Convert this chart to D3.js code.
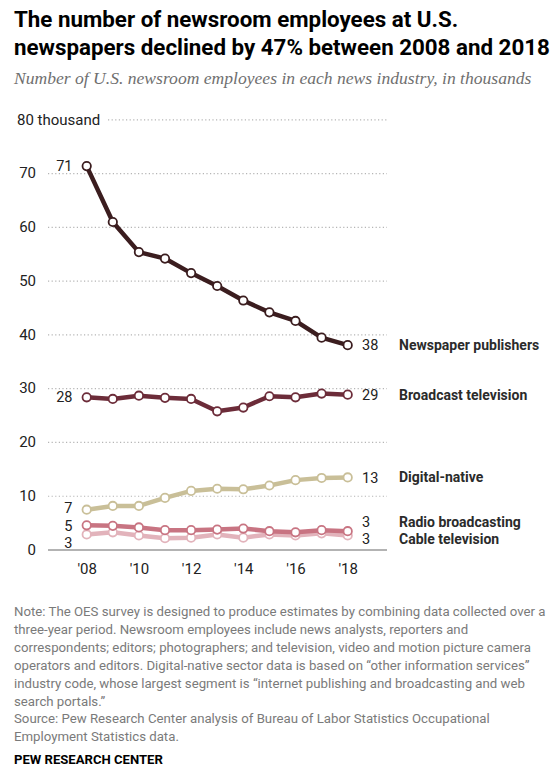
<!DOCTYPE html>
<html>
<head>
<meta charset="utf-8">
<script src="https://cdn.jsdelivr.net/npm/d3@7/dist/d3.min.js"></script>
<style>
  html, body { margin: 0; padding: 0; background: #fff; }
  svg { display: block; }
</style>
</head>
<body>
<svg id="chart" width="558" height="783"></svg>
<script>
// Newsroom employees by news industry, in thousands
const years = [2008, 2009, 2010, 2011, 2012, 2013, 2014, 2015, 2016, 2017, 2018];
const newspaperPublishers = [71.3, 60.9, 55.3, 54.1, 51.4, 49.0, 46.3, 44.1, 42.5, 39.4, 38.0];
const broadcastTelevision = [28.3, 28.0, 28.6, 28.2, 28.0, 25.7, 26.4, 28.5, 28.3, 29.0, 28.8];
const digitalNative = [7.4, 8.1, 8.1, 9.6, 10.9, 11.3, 11.2, 11.9, 12.9, 13.3, 13.4];
const radioBroadcasting = [4.5, 4.4, 4.1, 3.6, 3.6, 3.7, 3.9, 3.4, 3.2, 3.6, 3.4];
const cableTelevision = [2.8, 3.2, 2.6, 2.1, 2.2, 2.8, 2.2, 2.8, 2.6, 3.0, 2.6];

const seriesNames = ["Cable television", "Radio broadcasting", "Digital-native", "Broadcast television", "Newspaper publishers"];
const seriesValues = [cableTelevision, radioBroadcasting, digitalNative, broadcastTelevision, newspaperPublishers];

const yTicks = [0, 10, 20, 30, 40, 50, 60, 70, 80];
const xTicks = [2008, 2010, 2012, 2014, 2016, 2018];

const titleLines = [
  "The number of newsroom employees at U.S.",
  "newspapers declined by 47% between 2008 and 2018"
];
const subtitle = "Number of U.S. newsroom employees in each news industry, in thousands";
const noteLines = [
  "Note: The OES survey is designed to produce estimates by combining data collected over a",
  "three-year period. Newsroom employees include news analysts, reporters and",
  "correspondents; editors; photographers; and television, video and motion picture camera",
  "operators and editors. Digital-native sector data is based on \u201cother information services\u201d",
  "industry code, whose largest segment is \u201cinternet publishing and broadcasting and web",
  "search portals.\u201d",
  "Source: Pew Research Center analysis of Bureau of Labor Statistics Occupational",
  "Employment Statistics data."
];
const credit = "PEW RESEARCH CENTER";

// ---- styling and layout ----
const colors = {
  "Newspaper publishers": "#3b1d1f",
  "Broadcast television": "#6c2c39",
  "Digital-native": "#c9bf98",
  "Radio broadcasting": "#c87482",
  "Cable television": "#e2b3bb"
};
// vertical nudges (px) that keep the crowded labels at the bottom apart
const startNudge = { "Digital-native": -1.5, "Radio broadcasting": 0.5, "Cable television": 8 };
const endNudge = { "Radio broadcasting": -9.5, "Cable television": 3.5 };

const sansFont = "Roboto, 'Liberation Sans', Arial, sans-serif";
const serifFont = "'Liberation Serif', 'DejaVu Serif', Georgia, serif";

const svg = d3.select("#chart");

// scale a text element's font so its rendered width matches a target width
function fitWidth(sel, width) {
  const node = sel.node();
  const size = parseFloat(sel.attr("font-size"));
  const w = node.getComputedTextLength();
  const s = size * width / w;
  sel.attr("font-size", s);
  return s;
}

// Title
const title = svg.append("g").attr("font-family", sansFont).attr("font-weight", 700).attr("fill", "#000");
const t2 = title.append("text").attr("x", 14).attr("y", 55).attr("font-size", 21).text(titleLines[1]);
const titleSize = fitWidth(t2, 536);
title.append("text").attr("x", 14).attr("y", 27).attr("font-size", titleSize).text(titleLines[0]);

// Subtitle
const sub = svg.append("text").attr("x", 14).attr("y", 84)
  .attr("font-family", serifFont).attr("font-style", "italic")
  .attr("fill", "#6f6f6f").attr("font-size", 16).text(subtitle);
fitWidth(sub, 518);

// Scales
const gridLeft = 48, gridRight = 387;
const x = d3.scaleLinear().domain([2008, 2018]).range([86.7, 347.7]);
const y = d3.scaleLinear().domain([0, 80]).range([549.5, 119.3]);

// Y axis with gridlines
const yAxis = svg.append("g")
  .attr("transform", `translate(${gridLeft},0)`)
  .call(d3.axisLeft(y).tickValues(yTicks).tickSize(-(gridRight - gridLeft)).tickPadding(12)
    .tickFormat(d => d === 80 ? "80 thousand" : d));
yAxis.select(".domain").remove();
yAxis.selectAll(".tick line")
  .attr("x1", 0)
  .attr("x2", gridRight - gridLeft)
  .attr("stroke", "#b5b5b5")
  .attr("stroke-width", 1.2)
  .attr("stroke-dasharray", "1.2,2.4");
yAxis.selectAll(".tick text")
  .attr("font-family", sansFont).attr("font-size", 15).attr("fill", "#222");
// top tick label reads "80 thousand" and starts at the left margin
const topTick = yAxis.selectAll(".tick").filter(d => d === 80);
topTick.select("text").attr("text-anchor", "start").attr("x", 17 - gridLeft);
topTick.select("line").attr("x1", 108 - gridLeft);
// zero baseline is solid
yAxis.selectAll(".tick").filter(d => d === 0).select("line")
  .attr("stroke", "#9a9a9a").attr("stroke-width", 1.6).attr("stroke-dasharray", null);

// X axis labels
const xAxis = svg.append("g")
  .attr("transform", `translate(0,${y(0)})`)
  .call(d3.axisBottom(x).tickValues(xTicks).tickSize(0).tickPadding(0)
    .tickFormat(d => "'" + String(d).slice(2)));
xAxis.select(".domain").remove();
xAxis.selectAll(".tick text")
  .attr("font-family", sansFont).attr("font-size", 15).attr("fill", "#222")
  .attr("y", 24.5).attr("dy", null);

// Lines and markers
const line = d3.line().x((d, i) => x(years[i])).y(d => y(d));
const series = svg.append("g");
seriesNames.forEach((name, k) => {
  const vals = seriesValues[k];
  const g = series.append("g");
  g.append("path").datum(vals)
    .attr("d", line)
    .attr("fill", "none")
    .attr("stroke", colors[name])
    .attr("stroke-width", 4.5)
    .attr("stroke-linejoin", "round");
  g.selectAll("circle").data(vals).join("circle")
    .attr("cx", (d, i) => x(years[i]))
    .attr("cy", d => y(d))
    .attr("r", 4.2)
    .attr("fill", "#fff")
    .attr("stroke", colors[name])
    .attr("stroke-width", 1.8);
});

// Start / end value labels and series names
const labels = svg.append("g").attr("font-family", sansFont);
seriesNames.forEach((name, k) => {
  const vals = seriesValues[k];
  const first = vals[0], last = vals[vals.length - 1];
  labels.append("text")
    .attr("x", 72.5).attr("y", y(first) + (startNudge[name] || 0))
    .attr("dy", "0.35em").attr("text-anchor", "end")
    .attr("font-size", 14.5).attr("fill", "#222")
    .text(Math.round(first));
  const yEnd = y(last) + (endNudge[name] || 0);
  labels.append("text")
    .attr("x", 362).attr("y", yEnd).attr("dy", "0.35em")
    .attr("font-size", 14.5).attr("fill", "#222")
    .text(Math.round(last));
  labels.append("text")
    .attr("x", 399).attr("y", yEnd).attr("dy", "0.35em")
    .attr("font-size", 14).attr("font-weight", 700).attr("fill", "#2b2b2b")
    .text(name);
});

// Notes and source
const notes = svg.append("g").attr("font-family", sansFont).attr("fill", "#7a7a7a");
const n0 = notes.append("text").attr("x", 14).attr("y", 616).attr("font-size", 13).text(noteLines[0]);
const noteSize = fitWidth(n0, 532);
noteLines.slice(1).forEach((t, i) => {
  notes.append("text").attr("x", 14).attr("y", 616 + (i + 1) * 17.9)
    .attr("font-size", noteSize).text(t);
});
const cr = svg.append("text").attr("x", 14).attr("y", 764)
  .attr("font-family", sansFont).attr("font-weight", 700).attr("font-size", 13)
  .attr("fill", "#000").text(credit);
fitWidth(cr, 149);
</script>
</body>
</html>
